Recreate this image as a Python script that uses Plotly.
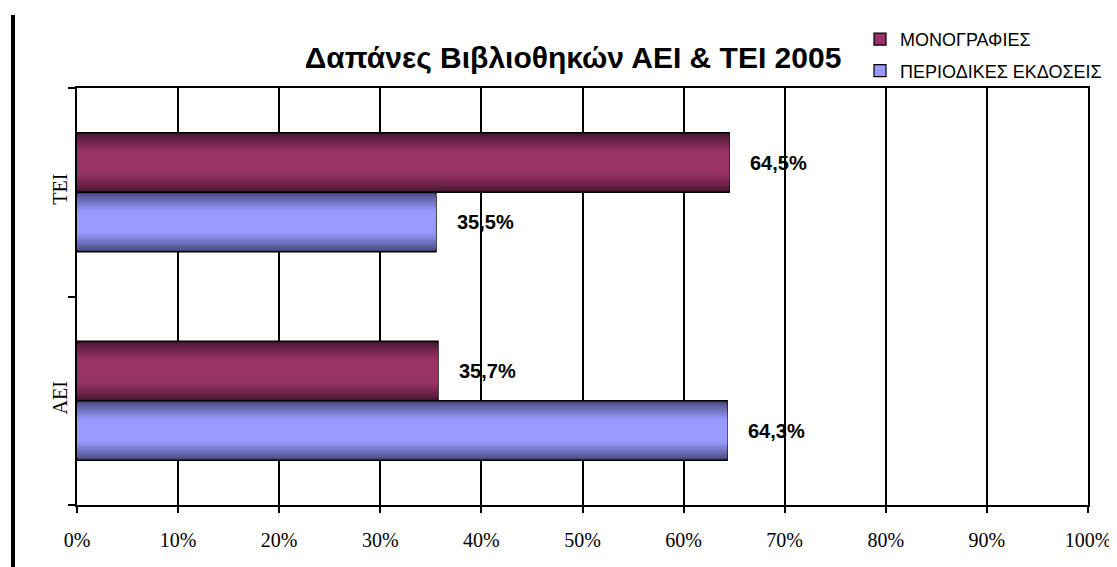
import plotly.graph_objects as go

categories = ["ΑΕΙ", "ΤΕΙ"]
series_names = ["ΜΟΝΟΓΡΑΦΙΕΣ", "ΠΕΡΙΟΔΙΚΕΣ ΕΚΔΟΣΕΙΣ"]
monografies = [0.357, 0.645]
periodikes = [0.643, 0.355]
x_ticks = [0, 0.1, 0.2, 0.3, 0.4, 0.5, 0.6, 0.7, 0.8, 0.9, 1.0]
title_text = "Δαπάνες Βιβλιοθηκών ΑΕΙ & ΤΕΙ 2005"

series_values = [monografies, periodikes]
dark_colors = [(70, 22, 48), (68, 68, 120)]
light_colors = [(153, 51, 102), (153, 153, 255)]
bar_w = 0.2854
base_offsets = [0.0, -bar_w]

# page body has an 8px margin; figure is sized to fit the window
PAD = 8
W, H = 1117 - PAD, 567 - PAD
L, R, T, B = 77 - PAD, 29, 88 - PAD, 62
PW, PH = W - L - R, H - T - B

def mix(c1, c2, t):
    return "rgb(%d,%d,%d)" % tuple(round(a + (b - a) * t) for a, b in zip(c1, c2))

fig = go.Figure()
N = 12
for s, vals in enumerate(series_values):
    for i in range(N):
        t = i / (N - 1)
        frac = 1.0 - 0.62 * t
        w = bar_w * frac
        off = base_offsets[s] + (bar_w - w) / 2
        fig.add_trace(go.Bar(
            x=vals, y=categories, orientation="h",
            width=w, offset=off,
            marker=dict(color=mix(dark_colors[s], light_colors[s], t ** 0.8),
                        line=dict(color="black", width=1.6 if i == 0 else 0)),
            showlegend=False, hoverinfo="skip",
        ))
    fig.add_trace(go.Bar(
        x=[None], y=[None], orientation="h", name=series_names[s],
        legendgroup="g%d" % s,
        marker=dict(color=mix(dark_colors[s], light_colors[s], 1.0),
                    line=dict(color="black", width=1.2)),
    ))

for s, vals in enumerate(series_values):
    for k, v in enumerate(vals):
        fig.add_annotation(
            x=v, y=k + base_offsets[s] + bar_w / 2, xref="x", yref="y",
            text="<b>" + ("%.1f%%" % (v * 100)).replace(".", ",") + "</b>",
            showarrow=False, xanchor="left", yanchor="middle", xshift=19,
            font=dict(family="Liberation Sans, Arial", size=20, color="black"),
        )

def px_x(p):
    return (p - PAD - L) / PW

def px_y(p):
    return (H - B - (p - PAD)) / PH

fig.add_shape(type="line", xref="paper", yref="paper",
              x0=px_x(13), x1=px_x(13), y0=px_y(15), y1=px_y(600),
              line=dict(color="black", width=4))

fig.update_layout(
    width=W, height=H,
    margin=dict(l=L, r=R, t=T, b=B, autoexpand=False),
    paper_bgcolor="white", plot_bgcolor="white",
    barmode="overlay",
    title=dict(text="<b>" + title_text + "</b>", x=(573 - PAD) / W, xanchor="center",
               y=1 - (57 - PAD) / H, yanchor="middle",
               font=dict(family="Liberation Sans, Arial", size=30, color="black")),
    legend=dict(x=px_x(860), y=px_y(21), xanchor="left", yanchor="top",
                font=dict(family="Liberation Sans, Arial", size=18, color="black"),
                tracegroupgap=5, itemwidth=30, bgcolor="rgba(0,0,0,0)"),
    showlegend=True,
)
fig.update_xaxes(range=[0, 1], tickvals=x_ticks, tickformat=".0%", automargin=False,
                 showgrid=True, gridcolor="black", gridwidth=1.5,
                 showline=True, linecolor="black", linewidth=2, mirror=True,
                 ticks="outside", ticklen=6, tickwidth=1.5, tickcolor="black",
                 ticklabelstandoff=10, zeroline=False,
                 tickfont=dict(family="Liberation Serif, Times New Roman", size=20, color="black"))
fig.update_yaxes(type="category", categoryorder="array", categoryarray=categories,
                 range=[-0.5, 1.5], tickson="boundaries", showgrid=False, automargin=False,
                 showline=True, linecolor="black", linewidth=2, mirror=True,
                 ticks="outside", ticklen=7, tickwidth=1.5, tickcolor="black",
                 tickangle=-90,
                 tickfont=dict(family="Liberation Serif, Times New Roman", size=20, color="black"))

fig.write_html("out.html")
